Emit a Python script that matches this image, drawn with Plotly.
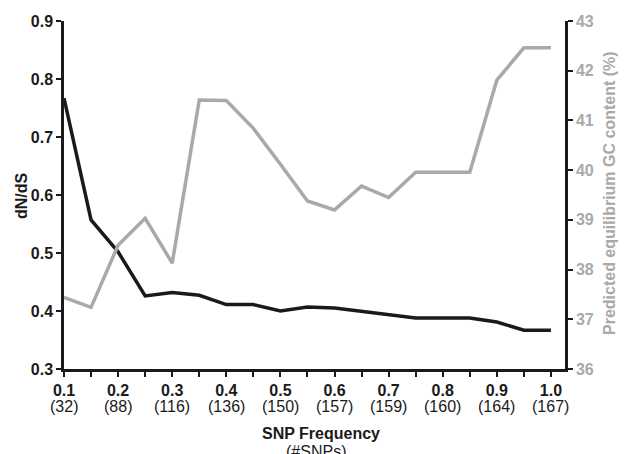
import plotly.graph_objects as go

freq = [0.1, 0.15, 0.2, 0.25, 0.3, 0.35, 0.4, 0.45, 0.5, 0.55, 0.6, 0.65, 0.7, 0.75, 0.8, 0.85, 0.9, 0.95, 1.0]
dnds = [0.767, 0.557, 0.502, 0.426, 0.432, 0.427, 0.411, 0.411, 0.400, 0.407, 0.405, 0.399, 0.394, 0.388, 0.388, 0.388, 0.381, 0.367, 0.367]
gc = [37.44, 37.24, 38.49, 39.03, 38.13, 41.41, 41.40, 40.84, 40.12, 39.38, 39.20, 39.68, 39.45, 39.96, 39.96, 39.96, 41.81, 42.46, 42.46]

label_vals = [0.1, 0.2, 0.3, 0.4, 0.5, 0.6, 0.7, 0.8, 0.9, 1.0]
label_main = ["0.1", "0.2", "0.3", "0.4", "0.5", "0.6", "0.7", "0.8", "0.9", "1.0"]
label_snps = ["32", "88", "116", "136", "150", "157", "159", "160", "164", "167"]

tickvals = []
ticktext = []
for f in freq:
    tickvals.append(f)
    found = ""
    for v, m in zip(label_vals, label_main):
        if abs(v - f) < 1e-9:
            found = f"<b>{m}</b>"
    ticktext.append(found)

BLACK = "#1a1a1a"
GRAY = "#a9a9a9"
FONT = "Liberation Sans, Arial, sans-serif"

fig = go.Figure()
fig.add_trace(go.Scatter(x=freq, y=dnds, mode="lines", line=dict(color=BLACK, width=3.5), yaxis="y", showlegend=False))
fig.add_trace(go.Scatter(x=freq, y=gc, mode="lines", line=dict(color=GRAY, width=3.5), yaxis="y2", showlegend=False))

annotations = []
for v, s in zip(label_vals, label_snps):
    annotations.append(dict(x=v, xref="x", y=0, yref="paper", yshift=-37, yanchor="middle",
                            text=f"({s})", showarrow=False, font=dict(size=16, color=BLACK)))
annotations.append(dict(x=0.5, xref="paper", xshift=6, y=0, yref="paper", yshift=-64, yanchor="middle",
                        text="<b>SNP Frequency</b>", showarrow=False, font=dict(size=16, color=BLACK)))
annotations.append(dict(x=0.5, xref="paper", xshift=1, y=0, yref="paper", yshift=-82, yanchor="middle",
                        text="(#SNPs)", showarrow=False, font=dict(size=16, color=BLACK)))
annotations.append(dict(x=0, xref="paper", xshift=-43, y=0.5, yref="paper", yshift=-1, xanchor="center",
                        text="<b>dN/dS</b>", textangle=-90, showarrow=False, font=dict(size=16, color=BLACK)))
annotations.append(dict(x=1, xref="paper", xshift=44, y=0.5, yref="paper", yshift=2, xanchor="center",
                        text="<b>Predicted equilibrium GC content (%)</b>", textangle=-90, showarrow=False,
                        font=dict(size=16, color=GRAY)))

fig.update_layout(
    width=626, height=454,
    margin=dict(l=56, r=69, t=13, b=93),
    paper_bgcolor="white", plot_bgcolor="white",
    font=dict(family=FONT, size=16, color=BLACK),
    annotations=annotations,
    xaxis=dict(
        range=[0.1, 1.026], tickvals=tickvals, ticktext=ticktext, automargin=False,
        ticks="outside", ticklen=5, tickwidth=2, tickcolor=BLACK,
        showline=True, linecolor=BLACK, linewidth=2.5, showgrid=False, zeroline=False,
        tickfont=dict(size=16, color=BLACK),
    ),
    yaxis=dict(
        range=[0.3, 0.9], dtick=0.1, tickformat=".1f", automargin=False,
        ticks="outside", ticklen=5, tickwidth=2, tickcolor=BLACK,
        showline=True, linecolor=BLACK, linewidth=2.5, showgrid=False, zeroline=False,
        tickfont=dict(size=16, color=BLACK, weight="bold"),
    ),
    yaxis2=dict(
        range=[36, 43], dtick=1, overlaying="y", side="right", automargin=False,
        ticks="outside", ticklen=5, tickwidth=2, tickcolor=BLACK,
        showline=True, linecolor=BLACK, linewidth=2.5, showgrid=False, zeroline=False,
        tickfont=dict(size=16, color=GRAY, weight="bold"),
    ),
)

fig.write_html("out.html")
